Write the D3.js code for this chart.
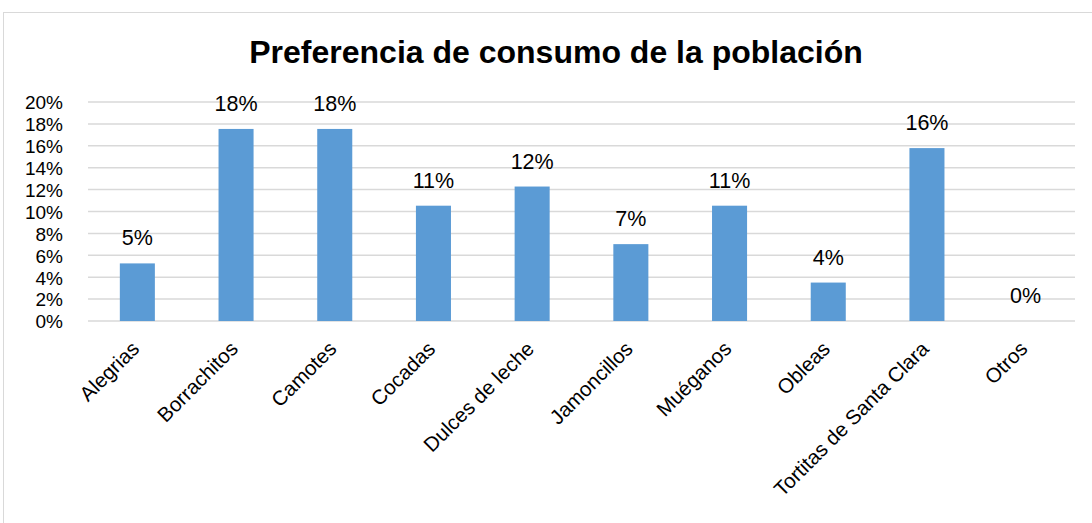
<!DOCTYPE html>
<html>
<head>
<meta charset="utf-8">
<script src="https://cdn.jsdelivr.net/npm/d3@7"></script>
<style>
  body { margin: 0; background: #fff; }
  text { font-family: "Liberation Sans", Arial, sans-serif; }
</style>
</head>
<body>
<div id="my_dataviz"></div>
<script>
// data
var categories = ["Alegrias", "Borrachitos", "Camotes", "Cocadas", "Dulces de leche",
                  "Jamoncillos", "Muéganos", "Obleas", "Tortitas de Santa Clara", "Otros"];
var values = [0.0526, 0.1754, 0.1754, 0.1053, 0.1228, 0.0702, 0.1053, 0.0351, 0.1579, 0];
var yTicks = [0, 0.02, 0.04, 0.06, 0.08, 0.10, 0.12, 0.14, 0.16, 0.18, 0.20];
var title = "Preferencia de consumo de la población";

var W = 1092, H = 523;
var margin = {top: 102, right: 17, bottom: 202, left: 88},
    width = W - margin.left - margin.right,
    height = H - margin.top - margin.bottom;

var root = d3.select("#my_dataviz")
  .append("svg")
    .attr("width", W)
    .attr("height", H);

// chart border
root.append("rect")
  .attr("x", 3.5).attr("y", 12.5)
  .attr("width", 1100).attr("height", 530)
  .attr("fill", "none")
  .attr("stroke", "#d9d9d9")
  .attr("stroke-width", 1);

// title
root.append("text")
  .attr("x", 556)
  .attr("y", 63)
  .attr("text-anchor", "middle")
  .style("font-size", "32px")
  .style("font-weight", "bold")
  .text(title);

var svg = root.append("g")
  .attr("transform", "translate(" + margin.left + "," + margin.top + ")");

var x = d3.scaleBand()
  .range([0, width])
  .domain(categories)
  .paddingInner(0.645)
  .paddingOuter(0.3225);

var y = d3.scaleLinear()
  .domain([0, 0.20])
  .range([height, 0]);

// gridlines
svg.append("g")
  .selectAll("line")
  .data(yTicks)
  .enter()
  .append("line")
    .attr("x1", 0).attr("x2", width)
    .attr("y1", function(d) { return y(d); })
    .attr("y2", function(d) { return y(d); })
    .attr("stroke", "#d9d9d9")
    .attr("stroke-width", 1.5);

// Y axis labels
var yAxis = svg.append("g")
  .attr("transform", "translate(-22,0)")
  .call(d3.axisLeft(y).tickValues(yTicks).tickFormat(d3.format(".0%")).tickSize(0));
yAxis.select(".domain").remove();
yAxis.selectAll("text")
  .attr("dy", "0.36em")
  .style("font-size", "19px")
  .style("font-family", "Liberation Sans, Arial, sans-serif")
  .attr("fill", "#000");

// X axis labels
var xAxis = svg.append("g")
  .attr("transform", "translate(0," + height + ")")
  .call(d3.axisBottom(x).tickSize(0));
xAxis.select(".domain").remove();
xAxis.selectAll("text")
  .attr("transform", "translate(1,27)rotate(-45)")
  .attr("dy", 0)
  .style("text-anchor", "end")
  .style("font-size", "20.5px")
  .style("font-family", "Liberation Sans, Arial, sans-serif")
  .attr("fill", "#000");

// Bars
svg.selectAll("mybar")
  .data(values)
  .enter()
  .append("rect")
    .attr("x", function(d, i) { return x(categories[i]); })
    .attr("y", function(d) { return y(d); })
    .attr("width", x.bandwidth())
    .attr("height", function(d) { return height - y(d); })
    .attr("fill", "#5b9bd5");

// value labels
svg.selectAll("vlabel")
  .data(values)
  .enter()
  .append("text")
    .attr("x", function(d, i) { return x(categories[i]) + x.bandwidth() / 2; })
    .attr("y", function(d) { return y(d) - 18; })
    .attr("text-anchor", "middle")
    .style("font-size", "21.5px")
    .text(function(d) { return Math.round(d * 100) + "%"; });
</script>
</body>
</html>
